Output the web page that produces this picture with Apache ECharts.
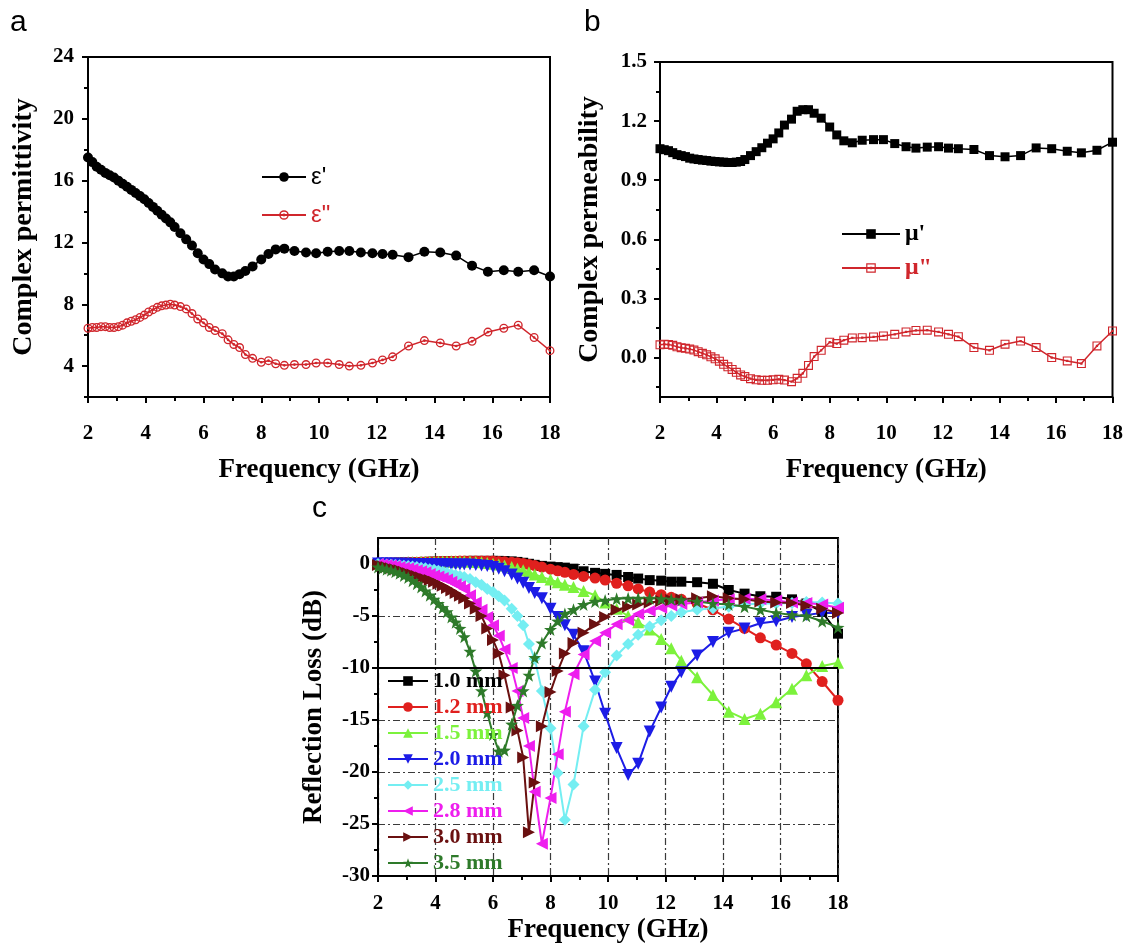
<!DOCTYPE html>
<html>
<head>
<meta charset="utf-8">
<title>Complex permittivity, permeability and reflection loss</title>
<script src="https://cdn.jsdelivr.net/npm/echarts@6/dist/echarts.min.js"></script>
<style>
  html, body { margin: 0; padding: 0; background: #ffffff; }
  #chart { width: 1126px; height: 948px; }
</style>
</head>
<body>
<div id="chart"></div>
<script>
// Measurement frequencies (GHz), shared by every curve
const freq = [
  2.00, 2.15, 2.30, 2.45, 2.60, 2.75, 2.90, 3.05, 3.20, 3.35,
  3.50, 3.65, 3.80, 3.95, 4.10, 4.25, 4.40, 4.55, 4.70, 4.85,
  5.00, 5.20, 5.40, 5.60, 5.80, 6.00, 6.20, 6.40, 6.65, 6.85,
  7.05, 7.25, 7.45, 7.70, 8.00, 8.25, 8.50, 8.80, 9.15, 9.55,
  9.90, 10.30, 10.70, 11.05, 11.45, 11.85, 12.20, 12.55, 13.10, 13.65,
  14.20, 14.75, 15.30, 15.85, 16.40, 16.90, 17.45, 18.00
];

// (a) complex permittivity
const epsReal = [
  17.5, 17.2, 16.9, 16.7, 16.5, 16.35, 16.2, 16.0, 15.8, 15.6,
  15.4, 15.2, 15.0, 14.8, 14.55, 14.3, 14.05, 13.8, 13.55, 13.3,
  13.0, 12.6, 12.2, 11.8, 11.3, 10.9, 10.6, 10.25, 10.0, 9.8,
  9.8, 9.95, 10.15, 10.45, 10.9, 11.25, 11.55, 11.6, 11.45, 11.35,
  11.3, 11.4, 11.45, 11.45, 11.35, 11.3, 11.25, 11.2, 11.05, 11.4,
  11.35, 11.15, 10.5, 10.1, 10.2, 10.1, 10.2, 9.8
];
const epsImag = [
  6.45, 6.5, 6.5, 6.55, 6.55, 6.5, 6.5, 6.55, 6.65, 6.8,
  6.9, 7.0, 7.15, 7.3, 7.5, 7.65, 7.8, 7.9, 7.95, 8.0,
  7.95, 7.85, 7.7, 7.4, 7.05, 6.8, 6.5, 6.3, 6.1, 5.7,
  5.4, 5.2, 4.75, 4.5, 4.25, 4.35, 4.15, 4.05, 4.1, 4.1,
  4.2, 4.2, 4.1, 4.0, 4.05, 4.2, 4.4, 4.6, 5.3, 5.65,
  5.5, 5.3, 5.6, 6.2, 6.45, 6.65, 5.85, 5.0
];

// (b) complex permeability
const muReal = [
  1.06, 1.055, 1.05, 1.04, 1.03, 1.025, 1.02, 1.012, 1.008, 1.005,
  1.002, 1.0, 0.997, 0.995, 0.993, 0.992, 0.99, 0.99, 0.992, 0.995,
  1.005, 1.025, 1.045, 1.065, 1.088, 1.11, 1.14, 1.18, 1.21, 1.25,
  1.258, 1.258, 1.24, 1.215, 1.17, 1.13, 1.10, 1.09, 1.103, 1.106,
  1.106, 1.086, 1.07, 1.063, 1.068, 1.07, 1.063, 1.06, 1.056, 1.025,
  1.019, 1.025, 1.064, 1.06, 1.047, 1.039, 1.052, 1.093
];
const muImag = [
  0.065, 0.068, 0.066, 0.062, 0.055, 0.05, 0.047, 0.043, 0.038, 0.03,
  0.022, 0.014, 0.004, -0.006, -0.018, -0.034, -0.047, -0.06, -0.075, -0.088,
  -0.096, -0.107, -0.113, -0.115, -0.115, -0.113, -0.11, -0.114, -0.122, -0.105,
  -0.08, -0.04, 0.005, 0.037, 0.078, 0.071, 0.088, 0.1, 0.101, 0.105,
  0.11, 0.118, 0.13, 0.138, 0.139, 0.13, 0.118, 0.106, 0.051, 0.037,
  0.068, 0.084, 0.051, 0.0, -0.017, -0.03, 0.059, 0.135
];

// (c) reflection loss (dB) for each absorber thickness
const rl10 = [
  0.05, 0.07, 0.09, 0.1, 0.12, 0.13, 0.15, 0.16, 0.17, 0.18,
  0.19, 0.2, 0.21, 0.22, 0.23, 0.24, 0.25, 0.26, 0.27, 0.28,
  0.29, 0.3, 0.3, 0.3, 0.3, 0.3, 0.3, 0.28, 0.25, 0.2,
  0.12, 0.02, -0.08, -0.18, -0.25, -0.3, -0.35, -0.45, -0.7, -0.85,
  -0.95, -1.05, -1.25, -1.4, -1.55, -1.6, -1.7, -1.7, -1.75, -1.9,
  -2.5, -2.85, -3.1, -3.15, -3.4, -3.8, -4.6, -6.7
];
const rl12 = [
  0.05, 0.07, 0.09, 0.1, 0.12, 0.13, 0.15, 0.16, 0.17, 0.18,
  0.19, 0.2, 0.21, 0.22, 0.23, 0.24, 0.25, 0.26, 0.27, 0.28,
  0.29, 0.3, 0.3, 0.3, 0.3, 0.28, 0.25, 0.22, 0.18, 0.12,
  0.05, -0.05, -0.15, -0.3, -0.5, -0.65, -0.8, -1.0, -1.2, -1.35,
  -1.55, -1.85, -2.1, -2.4, -2.7, -2.95, -3.2, -3.4, -3.8, -4.4,
  -5.3, -6.2, -7.1, -7.8, -8.6, -9.6, -11.3, -13.1
];
const rl15 = [
  0.05, 0.07, 0.09, 0.1, 0.12, 0.13, 0.15, 0.16, 0.17, 0.18,
  0.19, 0.2, 0.21, 0.22, 0.22, 0.23, 0.23, 0.24, 0.24, 0.24,
  0.24, 0.23, 0.2, 0.16, 0.1, 0.03, -0.05, -0.15, -0.3, -0.45,
  -0.6, -0.8, -1.0, -1.25, -1.5, -1.75, -2.0, -2.2, -2.6, -3.0,
  -3.7, -4.3, -5.0, -5.6, -6.3, -7.2, -8.1, -9.3, -10.9, -12.6,
  -14.2, -14.9, -14.4, -13.3, -12.0, -10.7, -9.8, -9.5
];
const rl20 = [
  0.05, 0.05, 0.04, 0.04, 0.03, 0.03, 0.02, 0.02, 0.01, 0.0,
  0.0, -0.01, -0.01, -0.02, -0.02, -0.03, -0.03, -0.04, -0.04, -0.05,
  -0.05, -0.05, -0.1, -0.15, -0.2, -0.3, -0.45, -0.7, -1.0, -1.4,
  -1.8, -2.3, -2.8, -3.3, -4.3, -5.1, -5.9, -6.8, -8.4, -11.3,
  -14.4, -17.7, -20.3, -19.2, -16.1, -13.8, -11.8, -10.4, -8.8, -7.5,
  -6.6, -6.2, -5.7, -5.5, -5.1, -4.9, -4.7, -4.7
];
const rl25 = [
  0.0, -0.02, -0.05, -0.08, -0.1, -0.13, -0.17, -0.2, -0.25, -0.3,
  -0.35, -0.4, -0.5, -0.55, -0.65, -0.75, -0.85, -0.95, -1.05, -1.15,
  -1.25, -1.45, -1.75, -2.0, -2.4, -2.7, -3.1, -3.5, -4.3, -5.0,
  -5.9, -7.7, -9.1, -12.2, -15.8, -20.1, -24.6, -21.2, -15.6, -12.1,
  -10.4, -8.8, -7.7, -6.8, -6.0, -5.4, -5.0, -4.65, -4.4, -4.25,
  -4.1, -3.9, -3.8, -3.8, -3.75, -3.65, -3.7, -3.8
];
const rl28 = [
  0.0, -0.05, -0.1, -0.15, -0.2, -0.28, -0.35, -0.42, -0.5, -0.6,
  -0.7, -0.8, -0.95, -1.1, -1.2, -1.35, -1.5, -1.7, -1.95, -2.15,
  -2.4, -3.0, -3.7, -4.4, -5.1, -5.9, -6.9, -8.2, -10.0, -12.2,
  -14.8, -17.5, -21.9, -26.9, -22.5, -18.3, -14.2, -10.6, -8.7, -7.4,
  -6.6, -5.8, -5.4, -4.8, -4.5, -4.2, -4.0, -3.85, -3.7, -3.5,
  -3.4, -3.35, -3.4, -3.5, -3.7, -3.75, -3.9, -4.2
];
const rl30 = [
  -0.1, -0.2, -0.3, -0.4, -0.5, -0.6, -0.75, -0.9, -1.0, -1.15,
  -1.3, -1.45, -1.55, -1.7, -1.9, -2.1, -2.3, -2.55, -2.8, -3.05,
  -3.3, -3.8, -4.3, -5.0, -6.2, -7.3, -8.6, -10.7, -13.8, -16.0,
  -18.6, -25.8, -21.0, -15.6, -12.3, -10.3, -8.6, -7.6, -6.6, -5.8,
  -5.1, -4.4, -4.1, -3.9, -3.7, -3.55, -3.45, -3.4, -3.3, -3.1,
  -3.3, -3.4, -3.6, -3.7, -3.75, -4.0, -4.3, -4.7
];
const rl35 = [
  -0.3, -0.4, -0.5, -0.6, -0.75, -0.9, -1.1, -1.3, -1.6, -1.9,
  -2.2, -2.6, -3.0, -3.4, -3.8, -4.2, -4.6, -5.1, -5.6, -6.2,
  -7.0, -8.4, -10.3, -12.2, -14.3, -16.4, -18.0, -17.9, -15.4, -13.6,
  -12.2, -10.7, -9.0, -7.6, -6.3, -5.5, -4.8, -4.4, -3.9, -3.6,
  -3.5, -3.35, -3.3, -3.3, -3.3, -3.35, -3.4, -3.45, -3.6, -3.8,
  -3.9, -4.1, -4.4, -4.7, -4.9, -5.0, -5.5, -6.1
];

const thicknessLabels = ['1.0 mm', '1.2 mm', '1.5 mm', '2.0 mm', '2.5 mm', '2.8 mm', '3.0 mm', '3.5 mm'];

// Tick positions
const xTicks = [2, 4, 6, 8, 10, 12, 14, 16, 18];
const xMinorTicks = [3, 5, 7, 9, 11, 13, 15, 17];
const epsTicks = [4, 8, 12, 16, 20, 24];
const epsMinorTicks = [2, 6, 10, 14, 18, 22];
const muTicks = [0.0, 0.3, 0.6, 0.9, 1.2, 1.5];
const muMinorTicks = [-0.15, 0.15, 0.45, 0.75, 1.05, 1.35];
const rlTicks = [-30, -25, -20, -15, -10, -5, 0];
const rlMinorTicks = [-27.5, -22.5, -17.5, -12.5, -7.5, -2.5];

const SERIF = '"Liberation Serif", "Times New Roman", Times, serif';
const SANS = '"Liberation Sans", Arial, Helvetica, sans-serif';

const RED = '#d0262c';
const rlColors = ['#000000', '#e0201e', '#7cf23c', '#1c1ce6', '#74eef2', '#ee1eee', '#6a1010', '#2e7a2a'];

// Marker shapes not built into the library
const RING_DOT = 'path://M0,-10 A10,10 0 1,1 0,10 A10,10 0 1,1 0,-10 Z M0,-7 A7,7 0 1,0 0,7 A7,7 0 1,0 0,-7 Z M0,-3 A3,3 0 1,1 0,3 A3,3 0 1,1 0,-3 Z';
const BOX_DOT = 'path://M-10,-10 L10,-10 L10,10 L-10,10 Z M-7.5,-7.5 L-7.5,7.5 L7.5,7.5 L7.5,-7.5 Z M-2.5,-2.5 L2.5,-2.5 L2.5,2.5 L-2.5,2.5 Z';
const STAR = 'path://M0,-10 L2.35,-3.24 L9.51,-3.09 L3.8,1.24 L5.88,8.09 L0,4 L-5.88,8.09 L-3.8,1.24 L-9.51,-3.09 L-2.35,-3.24 Z';

const rlMarkers = [
  { symbol: 'rect', size: 10, rotate: 0 },
  { symbol: 'circle', size: 11, rotate: 0 },
  { symbol: 'triangle', size: 12, rotate: 0 },
  { symbol: 'triangle', size: 12, rotate: 180 },
  { symbol: 'diamond', size: 12, rotate: 0 },
  { symbol: 'triangle', size: 12, rotate: 90 },
  { symbol: 'triangle', size: 12, rotate: -90 },
  { symbol: STAR, size: 13, rotate: 0 }
];
const rlValues = [rl10, rl12, rl15, rl20, rl25, rl28, rl30, rl35];

function pairs(xs, ys) { return xs.map((x, i) => [x, ys[i]]); }

const grids = [
  { left: 88, top: 57, width: 462, height: 340 },
  { left: 660, top: 62, width: 454, height: 335 },
  { left: 378, top: 538, width: 460, height: 338 }
].map(g => Object.assign({ show: true, borderColor: '#000', borderWidth: 2, backgroundColor: 'transparent' }, g));

const xAxes = [];
const yAxes = [];

// Each panel axis is a labelled axis with major ticks plus an overlay carrying the short minor ticks
function addAxis(list, dim, gridIndex, cfg) {
  const tickLine = { color: '#000', width: 2 };
  const position = dim === 'x' ? 'bottom' : 'left';
  list.push({
    type: 'value', gridIndex, position, min: cfg.min, max: cfg.max, interval: cfg.interval,
    name: cfg.name, nameLocation: 'middle', nameGap: cfg.nameGap,
    nameTextStyle: { fontFamily: SERIF, fontWeight: 'bold', fontSize: cfg.nameSize || 27, color: '#000' },
    axisLine: { show: true, onZero: false, lineStyle: { color: '#000', width: 2 } },
    axisTick: { show: true, inside: false, length: 6, customValues: cfg.ticks, lineStyle: tickLine },
    axisLabel: {
      customValues: cfg.ticks, formatter: cfg.fmt, margin: cfg.margin,
      fontFamily: SERIF, fontWeight: 'bold', fontSize: 21, color: '#000'
    },
    splitLine: cfg.split || { show: false },
    minorTick: { show: false }
  });
  list.push({
    type: 'value', gridIndex, position, min: cfg.min, max: cfg.max, interval: cfg.interval,
    axisLine: { show: false, onZero: false },
    axisTick: { show: true, inside: false, length: 4, customValues: cfg.minor, lineStyle: tickLine },
    axisLabel: { show: false },
    splitLine: { show: false }
  });
}

const intLabel = v => String(v);
const oneDecimal = v => v.toFixed(1);

// (a)
addAxis(xAxes, 'x', 0, { min: 2, max: 18, interval: 2, ticks: xTicks, minor: xMinorTicks, fmt: intLabel, margin: 26, name: 'Frequency (GHz)', nameGap: 60 });
addAxis(yAxes, 'y', 0, { min: 2, max: 24, interval: 2, ticks: epsTicks, minor: epsMinorTicks, fmt: intLabel, margin: 14, name: 'Complex permittivity', nameGap: 50, nameSize: 28 });
// (b)
addAxis(xAxes, 'x', 1, { min: 2, max: 18, interval: 2, ticks: xTicks, minor: xMinorTicks, fmt: intLabel, margin: 26, name: 'Frequency (GHz)', nameGap: 60 });
addAxis(yAxes, 'y', 1, { min: -0.2, max: 1.5, ticks: muTicks, minor: muMinorTicks, fmt: oneDecimal, margin: 13, name: 'Complex permeability', nameGap: 56, nameSize: 28 });
// (c)
const gridDash = { show: true, lineStyle: { color: '#3a3a3a', width: 1.2, type: [7, 3, 2, 3] } };
addAxis(xAxes, 'x', 2, { min: 2, max: 18, interval: 2, ticks: xTicks, minor: xMinorTicks, fmt: intLabel, margin: 17, name: 'Frequency (GHz)', nameGap: 41, split: gridDash });
addAxis(yAxes, 'y', 2, { min: -30, max: 2.5, interval: 5, ticks: rlTicks, minor: rlMinorTicks, fmt: intLabel, margin: 8, name: 'Reflection Loss (dB)', nameGap: 50, split: gridDash });

const base = { type: 'line', animation: false, emphasis: { disabled: true }, clip: true };

const series = [
  Object.assign({}, base, {
    name: "ε'", xAxisIndex: 0, yAxisIndex: 0, data: pairs(freq, epsReal),
    symbol: 'circle', symbolSize: 10,
    itemStyle: { color: '#000' }, lineStyle: { color: '#000', width: 1.5 }
  }),
  Object.assign({}, base, {
    name: 'ε"', xAxisIndex: 0, yAxisIndex: 0, data: pairs(freq, epsImag),
    symbol: RING_DOT, symbolSize: 9,
    itemStyle: { color: RED }, lineStyle: { color: RED, width: 1.5 }
  }),
  Object.assign({}, base, {
    name: "μ'", xAxisIndex: 2, yAxisIndex: 2, data: pairs(freq, muReal),
    symbol: 'rect', symbolSize: 9,
    itemStyle: { color: '#000' }, lineStyle: { color: '#000', width: 1.5 }
  }),
  Object.assign({}, base, {
    name: 'μ"', xAxisIndex: 2, yAxisIndex: 2, data: pairs(freq, muImag),
    symbol: BOX_DOT, symbolSize: 9,
    itemStyle: { color: RED }, lineStyle: { color: RED, width: 1.5 }
  })
];

thicknessLabels.forEach((label, k) => {
  const s = Object.assign({}, base, {
    name: label, xAxisIndex: 4, yAxisIndex: 4, data: pairs(freq, rlValues[k]),
    symbol: rlMarkers[k].symbol, symbolSize: rlMarkers[k].size, symbolRotate: rlMarkers[k].rotate,
    itemStyle: { color: rlColors[k] }, lineStyle: { color: rlColors[k], width: 2 }
  });
  if (k === thicknessLabels.length - 1) {
    // -10 dB reference line
    s.markLine = {
      silent: true, animation: false, symbol: ['none', 'none'], label: { show: false },
      lineStyle: { color: '#000', width: 2, type: 'solid' },
      data: [{ yAxis: -10 }]
    };
  }
  series.push(s);
});

const panelLetter = (text, left, top) => ({
  text, left, top, padding: 0,
  textStyle: { fontFamily: SANS, fontWeight: 'normal', fontSize: 30, color: '#000' }
});

const option = {
  animation: false,
  backgroundColor: '#ffffff',
  title: [panelLetter('a', 10, 8), panelLetter('b', 584, 8), panelLetter('c', 312, 494)],
  grid: grids,
  xAxis: xAxes,
  yAxis: yAxes,
  legend: [
    {
      data: [{ name: "ε'", textStyle: { color: '#000' } }, { name: 'ε"', textStyle: { color: RED } }],
      orient: 'vertical', left: 256, top: 160, itemWidth: 44, itemHeight: 12, itemGap: 14,
      selectedMode: false, textStyle: { fontFamily: SANS, fontSize: 24 }
    },
    {
      data: [{ name: "μ'", textStyle: { color: '#000' } }, { name: 'μ"', textStyle: { color: RED } }],
      orient: 'vertical', left: 836, top: 217, itemWidth: 58, itemHeight: 12, itemGap: 10,
      selectedMode: false, textStyle: { fontFamily: SERIF, fontWeight: 'bold', fontSize: 24 }
    },
    {
      data: thicknessLabels.map((name, k) => ({ name, textStyle: { color: rlColors[k] } })),
      orient: 'vertical', left: 382, top: 665, itemWidth: 40, itemHeight: 12, itemGap: 4,
      selectedMode: false, textStyle: { fontFamily: SERIF, fontWeight: 'bold', fontSize: 22 }
    }
  ],
  series
};

const chart = echarts.init(document.getElementById('chart'), null, { renderer: 'canvas' });
chart.setOption(option);
</script>
</body>
</html>
